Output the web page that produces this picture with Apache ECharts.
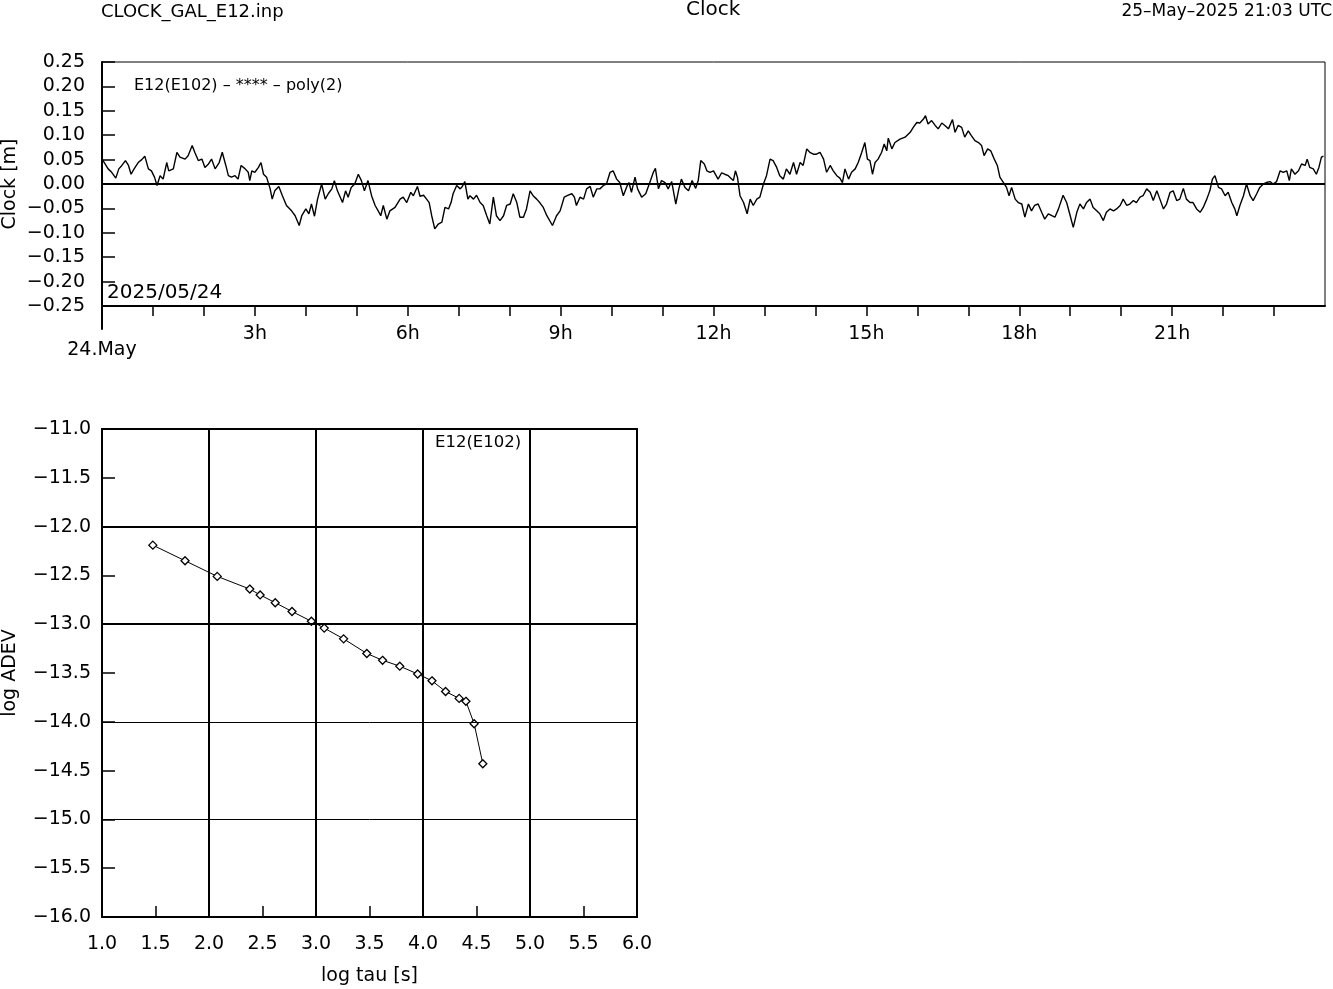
<!DOCTYPE html>
<html>
<head>
<meta charset="utf-8">
<script src="https://cdn.jsdelivr.net/npm/echarts@6/dist/echarts.min.js"></script>
<style>
html,body{margin:0;padding:0;background:#fff;}
#c{width:1333px;height:989px;}
</style>
</head>
<body>
<div id="c"></div>
<script>
// ---- Clock residuals (hours since 24 May 00:00 UTC, metres) ----
const clockHours = [
0.00,0.06,0.12,0.19,0.27,0.33,0.39,0.46,0.52,0.57,0.63,0.71,0.78,0.84,0.91,0.97,1.03,1.08,1.14,1.20,
1.27,1.31,1.40,1.47,1.53,1.63,1.69,1.77,1.82,1.89,1.96,2.02,2.09,2.15,2.22,2.30,2.36,2.43,2.48,2.54,
2.61,2.67,2.73,2.81,2.87,2.90,2.94,3.00,3.07,3.12,3.17,3.23,3.30,3.34,3.39,3.47,3.54,3.62,3.72,3.79,
3.87,3.92,4.00,4.06,4.11,4.17,4.23,4.31,4.38,4.44,4.51,4.56,4.62,4.72,4.78,4.83,4.89,4.96,5.03,5.09,
5.15,5.22,5.29,5.36,5.42,5.47,5.52,5.59,5.65,5.75,5.85,5.91,5.98,6.06,6.11,6.19,6.24,6.31,6.37,6.42,
6.47,6.53,6.60,6.67,6.73,6.80,6.85,6.89,6.96,7.03,7.07,7.12,7.18,7.22,7.29,7.35,7.42,7.48,7.55,7.61,
7.68,7.74,7.81,7.88,7.94,8.01,8.07,8.14,8.20,8.27,8.33,8.40,8.46,8.53,8.59,8.66,8.73,8.84,8.92,8.99,
9.07,9.15,9.22,9.27,9.31,9.38,9.45,9.51,9.58,9.64,9.71,9.77,9.84,9.90,9.97,10.03,10.10,10.16,10.23,10.30,
10.34,10.39,10.46,10.51,10.59,10.67,10.75,10.82,10.86,10.92,10.98,11.05,11.11,11.18,11.26,11.32,11.37,11.44,11.51,11.58,
11.65,11.70,11.75,11.82,11.87,11.93,12.00,12.09,12.16,12.22,12.29,12.34,12.39,12.43,12.47,12.52,12.59,12.66,12.72,12.78,
12.85,12.91,12.98,13.04,13.11,13.17,13.24,13.30,13.37,13.43,13.50,13.57,13.63,13.70,13.76,13.83,13.89,13.96,14.02,14.09,
14.16,14.22,14.29,14.35,14.42,14.48,14.53,14.58,14.65,14.71,14.78,14.84,14.91,14.97,15.02,15.07,15.12,15.17,15.23,15.30,
15.35,15.40,15.43,15.50,15.56,15.66,15.76,15.86,15.92,15.99,16.05,16.12,16.16,16.21,16.28,16.35,16.41,16.48,16.54,16.61,
16.69,16.74,16.80,16.87,16.93,17.00,17.06,17.13,17.20,17.26,17.31,17.38,17.44,17.51,17.57,17.62,17.69,17.75,17.80,17.85,
17.92,17.98,18.05,18.11,18.18,18.24,18.30,18.37,18.44,18.50,18.57,18.64,18.70,18.77,18.86,18.93,19.00,19.06,19.13,19.19,
19.26,19.32,19.39,19.45,19.52,19.58,19.65,19.71,19.78,19.85,19.91,19.98,20.04,20.11,20.17,20.24,20.30,20.37,20.43,20.50,
20.57,20.63,20.70,20.76,20.83,20.89,20.96,21.02,21.09,21.15,21.22,21.28,21.35,21.41,21.48,21.55,21.61,21.68,21.74,21.79,
21.84,21.91,21.97,22.04,22.10,22.17,22.23,22.27,22.33,22.40,22.46,22.53,22.59,22.66,22.72,22.79,22.85,22.92,22.98,23.05,
23.12,23.18,23.25,23.30,23.34,23.41,23.48,23.54,23.61,23.65,23.70,23.77,23.83,23.88,23.93,23.97
];
const clockValues = [
0.051,0.041,0.031,0.024,0.012,0.031,0.038,0.048,0.038,0.020,0.031,0.044,0.050,0.057,0.031,0.027,0.014,-0.003,0.017,0.010,
0.044,0.027,0.031,0.065,0.055,0.051,0.058,0.079,0.065,0.048,0.051,0.034,0.041,0.051,0.031,0.044,0.065,0.038,0.017,0.014,
0.017,0.010,0.038,0.031,0.024,0.007,0.027,0.024,0.034,0.044,0.020,0.014,-0.010,-0.031,-0.014,-0.005,-0.024,-0.044,-0.055,-0.065,
-0.085,-0.065,-0.051,-0.061,-0.041,-0.066,-0.031,0.000,-0.031,-0.020,-0.010,0.007,-0.014,-0.038,-0.014,-0.027,-0.007,0.000,0.020,0.007,
-0.014,0.007,-0.024,-0.044,-0.055,-0.065,-0.044,-0.072,-0.055,-0.048,-0.031,-0.027,-0.038,-0.017,-0.024,-0.005,-0.025,-0.023,-0.031,-0.038,
-0.065,-0.092,-0.082,-0.078,-0.048,-0.051,-0.038,-0.020,-0.003,-0.010,-0.005,0.005,-0.031,-0.024,-0.031,-0.023,-0.038,-0.044,-0.065,-0.082,
-0.027,-0.065,-0.075,-0.065,-0.044,-0.041,-0.020,-0.038,-0.068,-0.068,-0.051,-0.014,-0.024,-0.031,-0.038,-0.048,-0.065,-0.085,-0.065,-0.055,
-0.027,-0.023,-0.020,-0.027,-0.044,-0.027,-0.031,-0.010,-0.005,-0.027,-0.010,-0.010,-0.003,0.000,0.024,0.027,0.010,0.003,-0.024,-0.005,
0.003,-0.017,0.014,-0.010,-0.027,-0.020,0.003,0.024,0.032,-0.010,0.007,0.003,-0.010,0.005,-0.041,-0.010,0.010,-0.007,-0.014,0.007,
-0.009,0.007,0.048,0.041,0.027,0.024,0.027,0.010,0.023,0.020,0.017,0.012,0.007,0.027,0.014,-0.024,-0.038,-0.061,-0.031,-0.044,
-0.031,-0.027,0.000,0.017,0.051,0.048,0.034,0.017,0.010,0.031,0.020,0.044,0.020,0.044,0.038,0.072,0.065,0.061,0.061,0.065,
0.051,0.024,0.038,0.027,0.017,0.012,0.003,0.031,0.010,0.024,0.031,0.044,0.065,0.085,0.051,0.048,0.020,0.044,0.051,0.065,
0.082,0.068,0.094,0.072,0.085,0.092,0.096,0.106,0.116,0.126,0.125,0.133,0.140,0.123,0.130,0.120,0.113,0.125,0.120,0.113,
0.132,0.106,0.120,0.116,0.096,0.109,0.099,0.089,0.085,0.079,0.058,0.072,0.068,0.051,0.038,0.014,0.003,-0.007,-0.024,-0.007,
-0.031,-0.038,-0.041,-0.068,-0.041,-0.055,-0.044,-0.041,-0.058,-0.072,-0.061,-0.065,-0.068,-0.051,-0.023,-0.038,-0.065,-0.089,-0.058,-0.041,
-0.051,-0.038,-0.031,-0.048,-0.055,-0.061,-0.075,-0.058,-0.051,-0.055,-0.051,-0.044,-0.031,-0.044,-0.041,-0.034,-0.038,-0.027,-0.024,-0.010,
-0.017,-0.034,-0.014,-0.031,-0.051,-0.041,-0.017,-0.014,-0.034,-0.031,-0.009,-0.031,-0.038,-0.038,-0.051,-0.058,-0.048,-0.031,-0.014,0.010,
0.017,-0.007,-0.010,-0.024,-0.017,-0.038,-0.051,-0.065,-0.044,-0.024,0.000,-0.024,-0.034,-0.020,-0.007,0.000,0.003,0.005,0.000,0.005,
0.027,0.024,0.027,0.007,0.031,0.020,0.027,0.041,0.038,0.051,0.034,0.031,0.020,0.034,0.055,0.057
];

// ---- Allan deviation ----
const adevLogTau = [1.475,1.776,2.077,2.381,2.478,2.619,2.776,2.957,3.077,3.258,3.475,3.622,3.783,3.950,4.084,4.211,4.338,4.401,4.478,4.559];
const adevLog    = [-12.19,-12.35,-12.51,-12.64,-12.70,-12.78,-12.87,-12.97,-13.04,-13.15,-13.30,-13.37,-13.43,-13.51,-13.58,-13.69,-13.76,-13.79,-14.02,-14.43];

// ---- tick / grid positions ----
const clockXTicks = [1,2,3,4,5,6,7,8,9,10,11,12,13,14,15,16,17,18,19,20,21,22,23];
const clockXLabels = [3,6,9,12,15,18,21];
const adevXGrid = [2,3,4,5];
const adevYGridThick = [-12,-13];
const adevYGridThin = [-14,-15];

const FONT = 'DejaVu Sans';
const BLACK = '#000';
const minus = s => s.replace('-', '\u2212');

const clockData = clockHours.map((h, i) => [h, clockValues[i]]);
const adevData = adevLogTau.map((t, i) => [t, adevLog[i]]);

const txt = (size) => ({fontFamily: FONT, fontSize: size, color: BLACK, fontWeight: 'normal'});

const chart = echarts.init(document.getElementById('c'), null, {renderer: 'canvas'});
chart.setOption({
  animation: false,
  backgroundColor: '#fff',
  textStyle: {fontFamily: FONT, color: BLACK},
  title: [
    {text: 'CLOCK_GAL_E12.inp', left: 101, top: 3, padding: 0, textStyle: txt(18)},
    {text: 'Clock', left: 686, top: 0, padding: 0, textStyle: txt(20)},
    {text: '25\u2013May\u20132025 21:03 UTC', right: 1, top: 3, padding: 0, textStyle: txt(17)},
    {text: 'E12(E102) \u2013 **** \u2013 poly(2)', left: 134, top: 78, padding: 0, textStyle: txt(16)},
    {text: '2025/05/24', left: 107, top: 283, padding: 0, textStyle: txt(20)},
    {text: 'E12(E102)', left: 435, top: 434, padding: 0, textStyle: txt(16.5)}
  ],
  grid: [
    {left: 102, top: 62, width: 1223, height: 244, show: true, borderColor: BLACK, borderWidth: 1,
     backgroundColor: 'transparent', outerBoundsMode: 'none', containLabel: false},
    {left: 102, top: 429, width: 535, height: 488, show: true, borderColor: BLACK, borderWidth: 2,
     backgroundColor: 'transparent', outerBoundsMode: 'none', containLabel: false},
    // small strip under the clock panel: carries the long start-of-day tick at 24.May 00h
    {left: 102, top: 306, width: 10, height: 23, show: false, outerBoundsMode: 'none', containLabel: false}
  ],
  xAxis: [
    {
      gridIndex: 0, type: 'value', min: 0, max: 24, interval: 1, position: 'bottom',
      axisLine: {show: true, onZero: false, lineStyle: {color: BLACK, width: 2}},
      axisTick: {show: true, inside: false, length: 10, customValues: clockXTicks, lineStyle: {color: BLACK, width: 1.5}},
      axisLabel: {
        show: true, margin: 19, customValues: [0].concat(clockXLabels),
        fontFamily: FONT, fontSize: 19, color: BLACK,
        formatter: v => v === 0 ? '{m|24.May}' : (v + 'h'),
        rich: {m: {fontFamily: FONT, fontSize: 19, color: BLACK, padding: [16, 0, 0, 0]}}
      },
      splitLine: {show: false}
    },
    {
      gridIndex: 1, type: 'value', min: 1, max: 6, interval: 0.5,
      name: 'log tau [s]', nameLocation: 'middle', nameGap: 50, nameMoveOverlap: false,
      nameTextStyle: txt(19),
      axisLine: {show: true, onZero: false, lineStyle: {color: BLACK, width: 2}},
      axisTick: {show: true, inside: true, length: 11, lineStyle: {color: BLACK, width: 1.5}},
      axisLabel: {show: true, margin: 18, fontFamily: FONT, fontSize: 19, color: BLACK,
        formatter: v => v.toFixed(1)},
      splitLine: {show: false}
    },
    {
      gridIndex: 2, type: 'value', min: 0, max: 1, show: false
    }
  ],
  yAxis: [
    {
      gridIndex: 0, type: 'value', min: -0.25, max: 0.25, interval: 0.05,
      name: 'Clock [m]', nameLocation: 'middle', nameGap: 82, nameMoveOverlap: false,
      nameTextStyle: txt(19),
      axisLine: {show: true, onZero: false, lineStyle: {color: BLACK, width: 2}},
      axisTick: {show: true, inside: true, length: 13, lineStyle: {color: BLACK, width: 1.5}},
      axisLabel: {show: true, margin: 17, fontFamily: FONT, fontSize: 19, color: BLACK,
        formatter: v => Math.abs(v) < 1e-9 ? '0.00' : minus(v.toFixed(2))},
      splitLine: {show: false}
    },
    {
      gridIndex: 1, type: 'value', min: -16, max: -11, interval: 0.5,
      name: 'log ADEV', nameLocation: 'middle', nameGap: 82, nameMoveOverlap: false,
      nameTextStyle: txt(19),
      axisLine: {show: true, onZero: false, lineStyle: {color: BLACK, width: 2}},
      axisTick: {show: true, inside: true, length: 13, lineStyle: {color: BLACK, width: 1.5}},
      axisLabel: {show: true, margin: 11, fontFamily: FONT, fontSize: 19, color: BLACK,
        formatter: v => minus(v.toFixed(1))},
      splitLine: {show: false}
    },
    {
      gridIndex: 2, type: 'value', min: 0, max: 1, position: 'left',
      axisLine: {show: true, onZero: false, lineStyle: {color: BLACK, width: 2}},
      axisTick: {show: false}, axisLabel: {show: false}, splitLine: {show: false}
    }
  ],
  series: [
    {
      type: 'line', xAxisIndex: 0, yAxisIndex: 0, data: clockData,
      showSymbol: false, symbol: 'none', smooth: false,
      lineStyle: {color: BLACK, width: 1.4},
      markLine: {
        silent: true, symbol: ['none', 'none'], label: {show: false},
        lineStyle: {color: BLACK, width: 2, type: 'solid'},
        data: [{yAxis: 0}]
      }
    },
    {
      type: 'line', xAxisIndex: 1, yAxisIndex: 1, data: adevData, z: 3,
      symbol: 'diamond', symbolSize: 8, showSymbol: true,
      itemStyle: {color: '#fff', borderColor: BLACK, borderWidth: 1.3},
      lineStyle: {color: BLACK, width: 1},
      markLine: {
        silent: true, symbol: ['none', 'none'], label: {show: false},
        lineStyle: {color: BLACK, width: 2, type: 'solid'},
        data: adevXGrid.map(v => ({xAxis: v}))
          .concat(adevYGridThick.map(v => ({yAxis: v})))
          .concat(adevYGridThin.map(v => ({yAxis: v, lineStyle: {color: BLACK, width: 1, type: 'solid'}})))
      }
    }
  ]
});
</script>
</body>
</html>
